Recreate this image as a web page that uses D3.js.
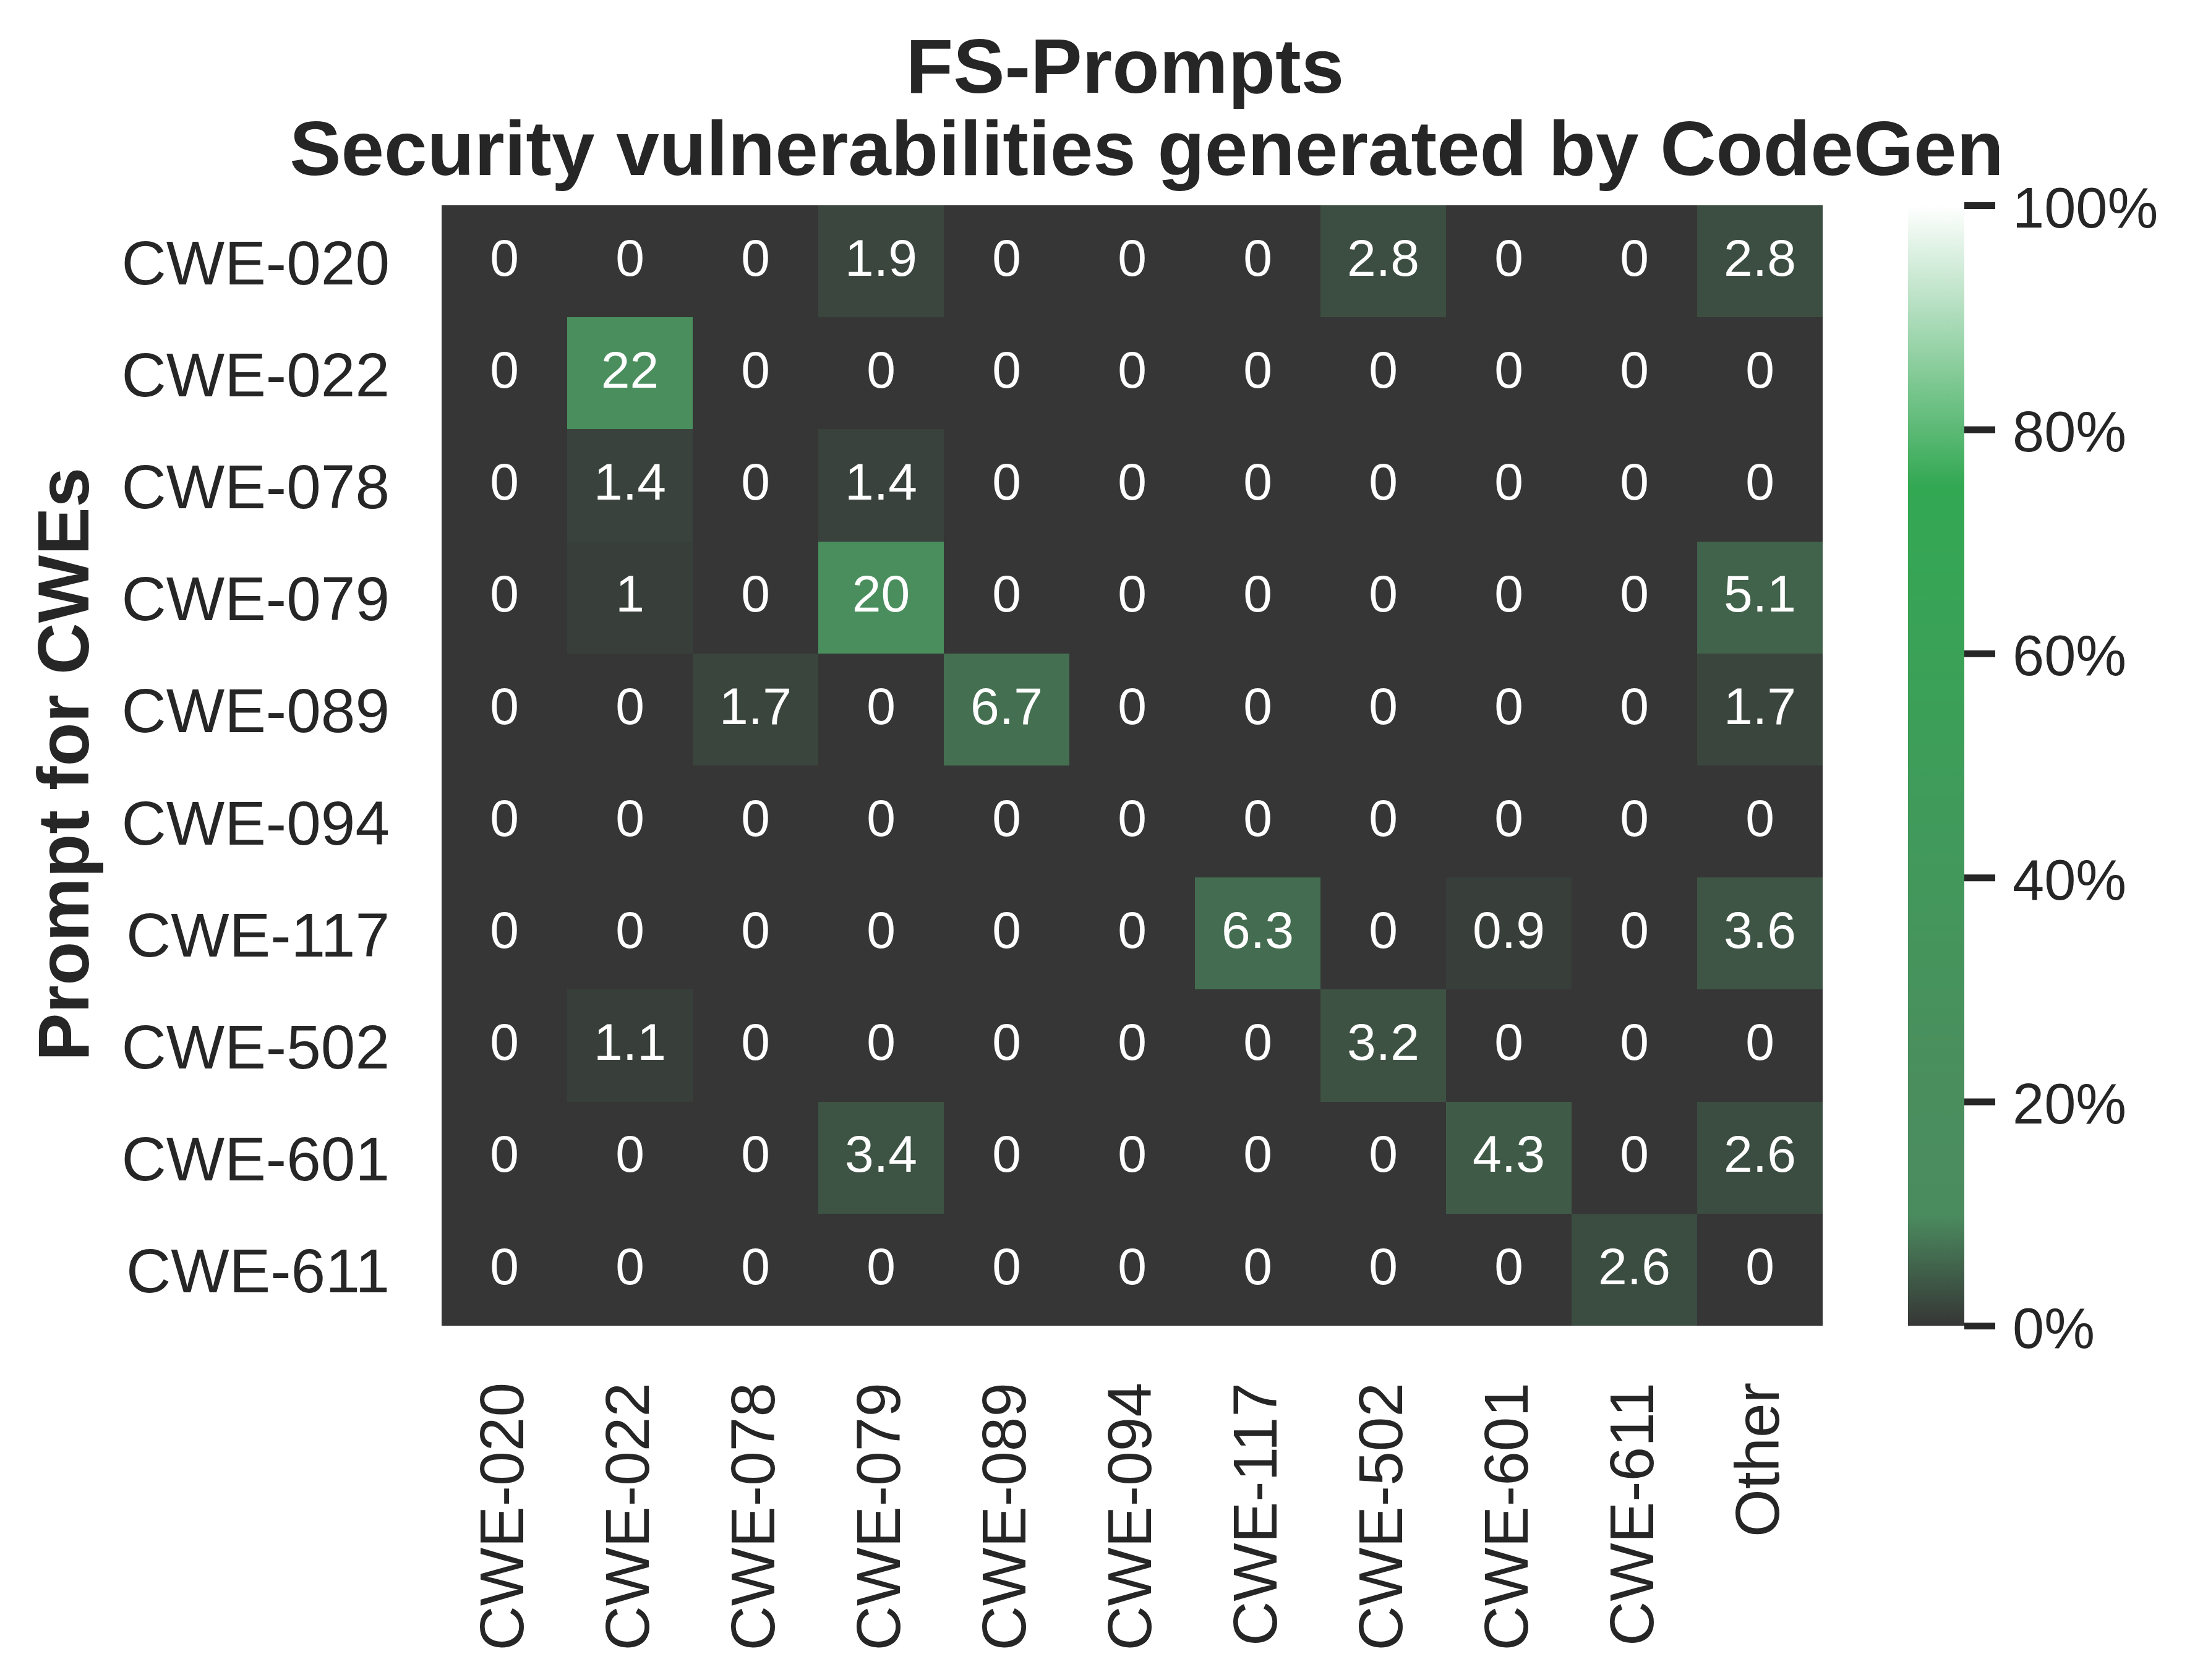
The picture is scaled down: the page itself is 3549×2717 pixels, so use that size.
<!DOCTYPE html>
<html>
<head>
<meta charset="utf-8">
<script src="https://cdn.jsdelivr.net/npm/d3@7"></script>
<style>
  body { margin: 0; background: #fff; }
  text { font-family: "Liberation Sans", Arial, sans-serif; }
</style>
</head>
<body>
<svg id="chart"></svg>
<script>
// Data
const rowLabels = ['CWE-020', 'CWE-022', 'CWE-078', 'CWE-079', 'CWE-089',
                   'CWE-094', 'CWE-117', 'CWE-502', 'CWE-601', 'CWE-611'];
const colLabels = ['CWE-020', 'CWE-022', 'CWE-078', 'CWE-079', 'CWE-089',
                   'CWE-094', 'CWE-117', 'CWE-502', 'CWE-601', 'CWE-611', 'Other'];
const values = [
  [0, 0,   0,   1.9, 0,   0, 0,   2.8, 0,   0,   2.8],
  [0, 22,  0,   0,   0,   0, 0,   0,   0,   0,   0],
  [0, 1.4, 0,   1.4, 0,   0, 0,   0,   0,   0,   0],
  [0, 1,   0,   20,  0,   0, 0,   0,   0,   0,   5.1],
  [0, 0,   1.7, 0,   6.7, 0, 0,   0,   0,   0,   1.7],
  [0, 0,   0,   0,   0,   0, 0,   0,   0,   0,   0],
  [0, 0,   0,   0,   0,   0, 6.3, 0,   0.9, 0,   3.6],
  [0, 1.1, 0,   0,   0,   0, 0,   3.2, 0,   0,   0],
  [0, 0,   0,   3.4, 0,   0, 0,   0,   4.3, 0,   2.6],
  [0, 0,   0,   0,   0,   0, 0,   0,   0,   2.6, 0]
];
const cbarTicks = [0, 20, 40, 60, 80, 100];
const titleLines = ['FS-Prompts', 'Security vulnerabilities generated by CodeGen'];
const yTitle = 'Prompt for CWEs';

// colormap stops
const cmapDomain = [0, 10, 22, 48, 75, 100];
const cmapColors = ['#363636', '#4b8c5f', '#4a8e5e', '#3f9c5a', '#33a853', '#ffffff'];

// Layout
const W = 3549, H = 2717;
const heat = { left: 714, right: 2947, top: 332, bottom: 2144 };
const cbar = { left: 3085, right: 3176 };
const INK = '#262626';

const svg = d3.select('#chart').attr('width', W).attr('height', H);
svg.append('rect').attr('width', W).attr('height', H).attr('fill', '#fff');

const x = d3.scaleBand().domain(colLabels).range([heat.left, heat.right]);
const y = d3.scaleBand().domain(rowLabels).range([heat.top, heat.bottom]);
const color = d3.scaleLinear().domain(cmapDomain).range(cmapColors)
  .interpolate(d3.interpolateRgb).clamp(true);
const fmt = d3.format('.2~g');

const cells = [];
values.forEach((row, i) => row.forEach((v, j) => cells.push({ r: rowLabels[i], c: colLabels[j], v })));

// Cells (snap to whole pixels so neighbouring cells meet without seams)
const x0 = d => Math.round(x(d.c));
const x1 = d => Math.round(x(d.c) + x.bandwidth());
const y0 = d => Math.round(y(d.r));
const y1 = d => Math.round(y(d.r) + y.bandwidth());
svg.append('g').attr('shape-rendering', 'crispEdges')
  .selectAll('rect').data(cells).join('rect')
  .attr('x', x0)
  .attr('y', y0)
  .attr('width', d => x1(d) - x0(d))
  .attr('height', d => y1(d) - y0(d))
  .attr('fill', d => color(d.v));

// Annotations
const annSize = 84;
svg.append('g').selectAll('text').data(cells).join('text')
  .attr('x', d => x(d.c) + x.bandwidth() / 2)
  .attr('y', d => y(d.r) + y.bandwidth() / 2 + 0.36 * annSize - 7)
  .attr('text-anchor', 'middle')
  .attr('font-size', annSize)
  .attr('fill', d => {
    const c = d3.rgb(color(d.v));
    const lum = 0.2126 * c.r + 0.7152 * c.g + 0.0722 * c.b;
    return lum > 150 ? INK : '#fff';
  })
  .text(d => fmt(d.v));

// Y axis tick labels
const yAxis = svg.append('g')
  .attr('transform', `translate(${heat.left},0)`)
  .call(d3.axisLeft(y).tickSize(0).tickPadding(84));
yAxis.select('.domain').remove();
yAxis.selectAll('text')
  .attr('font-size', 100)
  .attr('fill', INK)
  .attr('dy', null)
  .attr('y', 37);

// X axis tick labels (vertical)
const xAxis = svg.append('g')
  .attr('transform', `translate(0,${heat.bottom})`)
  .call(d3.axisBottom(x).tickSize(0));
xAxis.select('.domain').remove();
xAxis.selectAll('text')
  .attr('font-size', 100)
  .attr('fill', INK)
  .attr('dy', null)
  .attr('text-anchor', 'end')
  .attr('transform', 'rotate(-90)')
  .attr('x', -92)
  .attr('y', 30);

// Y axis title
svg.append('text')
  .attr('transform', `translate(143,${(heat.top + heat.bottom) / 2 - 2}) rotate(-90)`)
  .attr('text-anchor', 'middle')
  .attr('font-size', 116)
  .attr('font-weight', 'bold')
  .attr('fill', INK)
  .text(yTitle);

// Title
const titleX = [1819, 1854];
const titleY = [150, 283];
svg.append('g').selectAll('text').data(titleLines).join('text')
  .attr('x', (d, i) => titleX[i])
  .attr('y', (d, i) => titleY[i])
  .attr('text-anchor', 'middle')
  .attr('font-size', 125)
  .attr('font-weight', 'bold')
  .attr('fill', INK)
  .text(d => d);

// Colour bar
const cScale = d3.scaleLinear().domain([0, 100]).range([heat.bottom, heat.top]);
const grad = svg.append('defs').append('linearGradient')
  .attr('id', 'cbar-grad')
  .attr('x1', 0).attr('y1', 1).attr('x2', 0).attr('y2', 0);
grad.selectAll('stop').data(d3.range(0, 100.01, 0.5)).join('stop')
  .attr('offset', d => d / 100)
  .attr('stop-color', d => color(d));
svg.append('rect')
  .attr('x', cbar.left)
  .attr('y', heat.top)
  .attr('width', cbar.right - cbar.left)
  .attr('height', heat.bottom - heat.top)
  .attr('fill', 'url(#cbar-grad)');

const cAxis = svg.append('g')
  .attr('transform', `translate(${cbar.right},0)`)
  .call(d3.axisRight(cScale).tickValues(cbarTicks).tickFormat(d => d + '%')
    .tickSize(50).tickPadding(28));
cAxis.select('.domain').remove();
cAxis.selectAll('line').attr('stroke', INK).attr('stroke-width', 11);
cAxis.selectAll('text')
  .attr('font-size', 92)
  .attr('fill', INK)
  .attr('dy', null)
  .attr('y', 35);
</script>
</body>
</html>
